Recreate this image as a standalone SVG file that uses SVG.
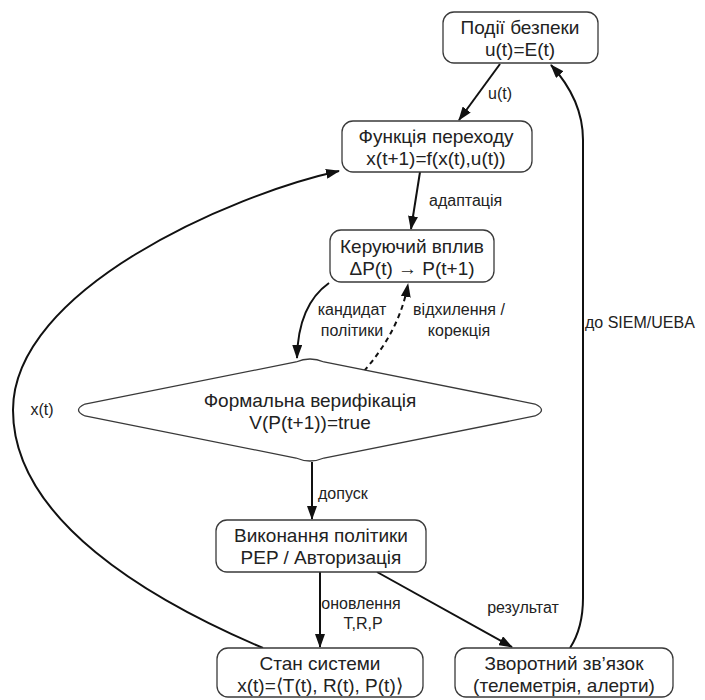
<svg xmlns="http://www.w3.org/2000/svg" width="705" height="700" viewBox="0 0 705 700">
<style>
.node{fill:#fff;stroke:#3a3a3a;stroke-width:1.3}
.t{font-family:"Liberation Sans",Arial,sans-serif;font-size:19px;fill:#222;text-anchor:middle}
.l{font-family:"Liberation Sans",Arial,sans-serif;font-size:16px;fill:#222}
.c{fill:none;stroke:#111;stroke-width:2}
.d{stroke-dasharray:5,4}
</style>
<defs>
<marker id="ah" markerWidth="14" markerHeight="10" refX="13" refY="5" orient="auto" markerUnits="userSpaceOnUse">
<path d="M0,0 L14,5 L0,10 Z" fill="#111"/>
</marker>
</defs>
<g id="connectors">
<path class="c" d="M500,64 L459,120" marker-end="url(#ah)"/>
<path class="c" d="M570,648 Q583,628 583,598 L583,140 Q583,100 551,65" marker-end="url(#ah)"/>
<path class="c" d="M420,172 L411,229" marker-end="url(#ah)"/>
<path class="c" d="M329,283 Q298,305 297,358" marker-end="url(#ah)"/>
<path class="c d" d="M364,371 Q400,330 408,284" marker-end="url(#ah)"/>
<path class="c" d="M312,462 L312,519" marker-end="url(#ah)"/>
<path class="c" d="M320,572 L320,647" marker-end="url(#ah)"/>
<path class="c" d="M377,572 L512,647" marker-end="url(#ah)"/>
<path class="c" d="M263,648 C150,600 13,520 13,410 C13,290 230,195 339,171" marker-end="url(#ah)"/>
<text class="l" x="488" y="99">u(t)</text>
<text class="l" x="585" y="328">до SIEM/UEBA</text>
<text class="l" x="429" y="206">адаптація</text>
<text class="l" x="352" y="315" text-anchor="middle">кандидат</text>
<text class="l" x="352" y="336" text-anchor="middle">політики</text>
<text class="l" x="459" y="315" text-anchor="middle">відхилення /</text>
<text class="l" x="459" y="336" text-anchor="middle">корекція</text>
<text class="l" x="318" y="499">допуск</text>
<text class="l" x="361" y="609" text-anchor="middle">оновлення</text>
<text class="l" x="363" y="629" text-anchor="middle">T,R,P</text>
<text class="l" x="523" y="613" text-anchor="middle">результат</text>
<text class="l" x="42" y="415" text-anchor="middle">x(t)</text>
</g>
<g id="n1">
<rect class="node" x="443" y="12" width="155" height="51" rx="11"/>
<text class="t" x="520" y="34">Події безпеки</text>
<text class="t" x="520" y="56">u(t)=E(t)</text>
</g>
<g id="n2">
<rect class="node" x="342" y="121" width="190" height="51" rx="11"/>
<text class="t" x="436" y="143">Функція переходу</text>
<text class="t" x="436" y="165">x(t+1)=f(x(t),u(t))</text>
</g>
<g id="n3">
<rect class="node" x="330" y="230" width="164" height="52" rx="11"/>
<text class="t" x="412" y="253">Керуючий вплив</text>
<text class="t" x="412" y="275">ΔP(t) → P(t+1)</text>
</g>
<g id="n4">
<path class="node" d="M296,362 Q310,356 324,362 L535,404 Q548,410 535,416 L324,458 Q310,464 296,458 L85,416 Q72,410 85,404 Z"/>
<text class="t" x="310" y="407">Формальна верифікація</text>
<text class="t" x="310" y="429">V(P(t+1))=true</text>
</g>
<g id="n5">
<rect class="node" x="216" y="520" width="210" height="52" rx="11"/>
<text class="t" x="321" y="542">Виконання політики</text>
<text class="t" x="321" y="564">PEP / Авторизація</text>
</g>
<g id="n6">
<rect class="node" x="217" y="648" width="206" height="49" rx="11"/>
<text class="t" x="320" y="670">Стан системи</text>
<text class="t" x="320" y="692">x(t)=⟨T(t), R(t), P(t)⟩</text>
</g>
<g id="n7">
<rect class="node" x="455" y="648" width="218" height="49" rx="11"/>
<text class="t" x="564" y="670">Зворотний зв’язок</text>
<text class="t" x="564" y="692">(телеметрія, алерти)</text>
</g>
</svg>
